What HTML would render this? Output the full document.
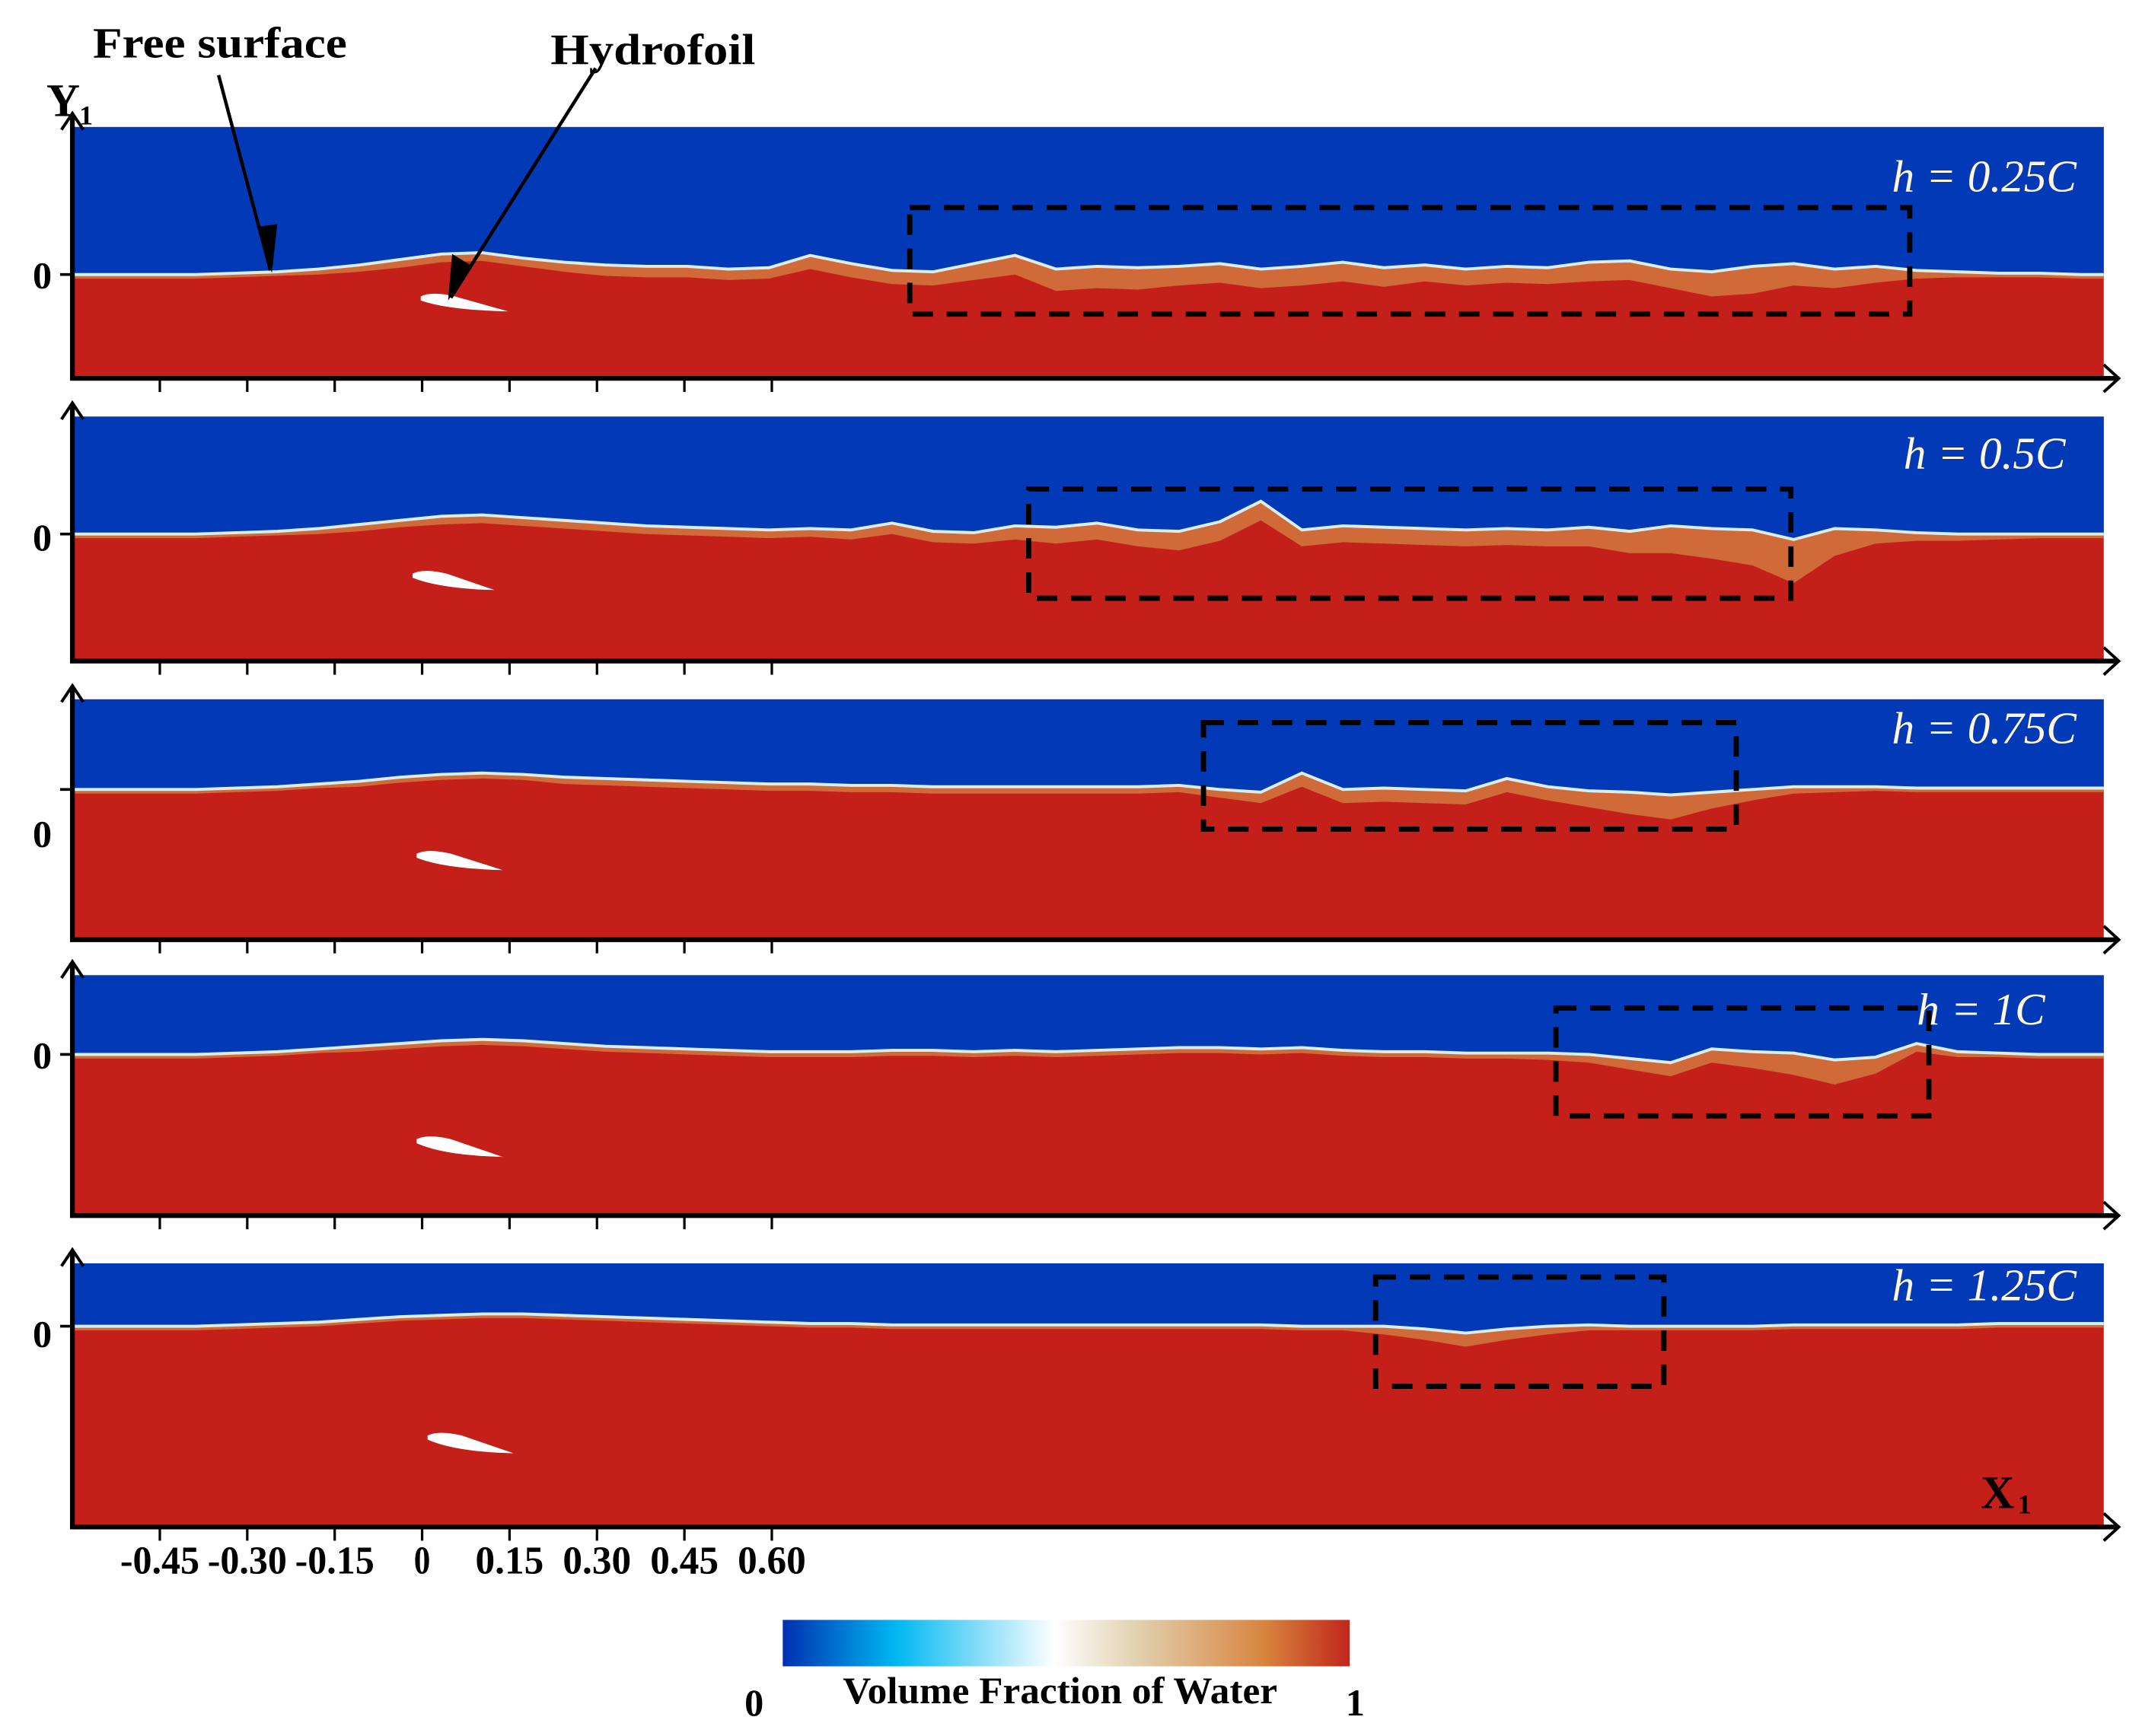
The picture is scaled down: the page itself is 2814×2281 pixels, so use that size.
<!DOCTYPE html>
<html><head><meta charset="utf-8"><style>
html,body{margin:0;padding:0;background:#fff;}
svg{display:block;font-family:"Liberation Serif",serif;}
</style></head><body>
<svg id="fig" width="2814" height="2281" viewBox="0 0 1568 1271" preserveAspectRatio="none" xmlns="http://www.w3.org/2000/svg">
<defs>
<linearGradient id="cbar" x1="0" x2="1" y1="0" y2="0">
<stop offset="0" stop-color="#0030b0"/><stop offset="0.2" stop-color="#00b8f2"/>
<stop offset="0.48" stop-color="#ffffff"/><stop offset="0.62" stop-color="#e2d2b2"/>
<stop offset="0.85" stop-color="#d8843e"/><stop offset="1" stop-color="#c0261a"/>
</linearGradient>
</defs>
<g id="panels"></g>
<g id="annot">
<text x="68" y="42" font-size="32" font-weight="bold" textLength="186" lengthAdjust="spacingAndGlyphs">Free surface</text>
<text x="403" y="47" font-size="32" font-weight="bold" textLength="150" lengthAdjust="spacingAndGlyphs">Hydrofoil</text>
<line x1="160" y1="55" x2="198" y2="198" stroke="#000" stroke-width="2.5"/>
<polygon points="189,166 203,164 199,200" fill="#000"/>
<line x1="436" y1="50" x2="330" y2="218" stroke="#000" stroke-width="2.5"/>
<polygon points="331,186 346,195 328,220" fill="#000"/>
<text x="34" y="85" font-size="34" font-weight="bold">Y</text>
<text x="58" y="91" font-size="20" font-weight="bold">1</text>
<text x="1450" y="1104" font-size="34" font-weight="bold">X</text>
<text x="1477" y="1108" font-size="20" font-weight="bold">1</text>
</g>
<g id="xticks"></g>
<g>
<rect x="573" y="1186" width="415" height="34" fill="url(#cbar)"/>
<text x="545" y="1256" font-size="28" font-weight="bold">0</text>
<text x="617" y="1247" font-size="28" font-weight="bold" textLength="318" lengthAdjust="spacingAndGlyphs">Volume Fraction of Water</text>
<text x="985" y="1256" font-size="28" font-weight="bold">1</text>
</g>
</svg>
<script>
// surface elevation samples (px above zero line) at sampleX positions
const sampleX = [53,83,113,143,173,203,233,263,293,323,353,383,413,443,473,503,533,563,593,623,653,683,713,743,773,803,833,863,893,923,953,983,1013,1043,1073,1103,1133,1163,1193,1223,1253,1283,1313,1343,1373,1403,1433,1463,1493,1523,1540];
const elevH025 = [0,0,0,0,1,2,4,7,11,15,16,12,9,7,6,6,4,5,14,8,3,2,8,14,4,6,5,6,8,4,6,9,5,7,4,6,5,9,10,4,2,6,8,4,6,3,2,1,1,0,0];
const elevH05  = [0,0,0,0,1,2,4,7,10,13,14,12,10,8,6,5,4,3,4,3,8,2,1,6,5,8,3,2,9,24,3,6,5,4,3,4,3,5,2,6,4,3,-4,4,3,1,0,0,0,0,0];
const elevH075 = [0,0,0,0,1,2,4,6,9,11,12,11,9,8,7,6,5,4,4,3,3,2,2,2,2,2,2,3,0,-2,12,0,1,0,-1,8,2,-1,-2,-4,-2,0,2,2,2,1,1,1,1,1,1];
const elevH1   = [0,0,0,0,1,2,4,6,8,10,11,10,8,6,5,4,3,2,2,2,3,3,2,3,2,3,4,5,5,4,5,3,2,2,1,1,1,0,-3,-6,4,2,1,-4,-2,8,2,1,0,0,0];
const elevH125 = [0,0,0,0,1,2,3,5,7,8,9,9,8,7,6,5,4,3,2,2,1,1,1,1,1,1,1,1,1,1,0,0,0,-2,-5,-2,0,1,0,0,0,0,1,1,1,1,1,2,2,2,2];
// orange mixed-layer depth below the surface (px)
const depthH025 = [3,3,3,3,3,3,4,5,6,6,6,6,7,8,8,8,8,8,10,10,10,10,12,14,16,16,16,14,14,14,14,14,14,12,12,12,12,14,14,14,18,20,16,14,12,6,4,3,3,3,3];
const depthH05  = [3,3,3,3,3,3,4,5,5,6,6,6,6,6,6,6,6,6,6,7,8,8,8,10,12,12,12,14,14,14,12,12,12,12,12,12,12,14,16,20,22,26,32,20,10,6,5,4,3,3,3];
const depthH075 = [3,3,3,3,3,3,3,4,4,4,4,4,5,5,5,5,5,5,5,5,5,5,5,5,5,5,5,5,6,8,10,10,10,10,10,10,10,12,16,18,12,8,5,4,3,3,3,3,3,3,3];
const depthH1   = [3,3,3,3,3,3,3,4,4,4,4,4,4,4,4,4,4,4,4,4,4,4,4,4,4,4,4,4,4,4,4,4,4,4,4,4,5,6,8,10,10,12,16,18,12,6,4,3,3,3,3];
const depthH125 = [3,3,3,3,3,3,3,3,3,3,3,3,3,3,3,3,3,3,3,3,3,3,3,3,3,3,3,3,3,3,3,3,6,8,10,8,6,4,3,3,3,3,3,3,3,3,3,3,3,3,3];
const panelLabels = ["0.25C","0.5C","0.75C","1C","1.25C"];
const tickLabels = ["-0.45","-0.30","-0.15","0","0.15","0.30","0.45","0.60"];
const tickValues = [-0.45,-0.30,-0.15,0,0.15,0.30,0.45,0.60];

const NS="http://www.w3.org/2000/svg";
const G=document.getElementById('panels');
function mk(tag,attrs,parent){const e=document.createElementNS(NS,tag);for(const k in attrs)e.setAttribute(k,attrs[k]);(parent||G).appendChild(e);return e;}
function xScale(v){return 309+v*(64/0.15);}
const panels=[
 {top:93,bot:277,zero:201,elev:elevH025,depth:depthH025,box:[666,152,1398,230],lab:[1520,140],foil:[308,219,372,226],zl:201},
 {top:305,bot:484,zero:391,elev:elevH05,depth:depthH05,box:[753,358,1311,438],lab:[1512,343],foil:[302,422,362,430],zl:393},
 {top:512,bot:688,zero:578,elev:elevH075,depth:depthH075,box:[881,529,1271,607],lab:[1520,544],foil:[305,627,368,635],zl:610},
 {top:714,bot:890,zero:772,elev:elevH1,depth:depthH1,box:[1139,738,1412,817],lab:[1497,750],foil:[305,836,368,845],zl:772},
 {top:925,bot:1118,zero:971,elev:elevH125,depth:depthH125,box:[1007,935,1218,1015],lab:[1520,952],foil:[313,1053,376,1062],zl:976}
];
panels.forEach((p,pi)=>{
  const g=mk('g',{});
  
  
  const bg=mk('rect',{x:53,y:p.top,width:1487,height:p.bot-p.top,fill:'#c41f19'},g);
  
  
  const yOf=i=>p.zero-p.elev[i];
  let surf='';sampleX.forEach((x,i)=>{surf+=(i?'L':'M')+x+','+yOf(i).toFixed(1);});
  let air='M53,'+p.top+' L1540,'+p.top+' L1540,'+yOf(sampleX.length-1)+' ';
  for(let i=sampleX.length-1;i>=0;i--)air+='L'+sampleX[i]+','+yOf(i).toFixed(1)+' ';
  air+='Z';
  let band=surf;
  for(let i=sampleX.length-1;i>=0;i--)band+='L'+sampleX[i]+','+(yOf(i)+p.depth[i]).toFixed(1);
  band+='Z';
  const b=mk('path',{d:band,fill:'#d06a38'},g);
  
  
  const a=mk('path',{d:air,fill:'#0239b7'},g);
  
  
  const s=mk('path',{d:surf,fill:'none',stroke:'#d8eef2',"stroke-width":2.2},g);
  
  
  const f=p.foil;
  const foil=mk('path',{d:`M${f[0]},${f[1]-2} Q${f[0]+8},${f[1]-6} ${f[0]+25},${f[1]-2} L${f[2]},${f[3]+2} Q${f[0]+20},${f[3]+1} ${f[0]},${f[1]+1} Z`,fill:'#ffffff'},g);
  
  
  const bx=p.box;
  const box=mk('rect',{x:bx[0],y:bx[1],width:bx[2]-bx[0],height:bx[3]-bx[1],fill:'none',stroke:'#000',"stroke-width":3.8,"stroke-dasharray":"15,10"},g);
  
  
  const t=mk('text',{x:p.lab[0],y:p.lab[1],"font-size":33,"text-anchor":"end",fill:'#fff6dc',"font-style":"italic"},g);
  t.textContent='h = '+panelLabels[pi];
  
  
  const ax=mk('path',{d:`M53,${p.top-8} L53,${p.bot} L1550,${p.bot}`,fill:'none',stroke:'#000',"stroke-width":3.5},g);
  
  
  const ar=mk('path',{d:`M45,${p.top+2} L53,${p.top-10} L61,${p.top+2} M1540,${p.bot-10} L1551,${p.bot} L1540,${p.bot+10}`,fill:'none',stroke:'#000',"stroke-width":2.2},g);
  
  
  const zt=mk('line',{x1:44,x2:53,y1:p.zero,y2:p.zero,stroke:'#000',"stroke-width":2},g);
  
  
  const zl=mk('text',{x:31,y:p.zl+10,"font-size":28,"text-anchor":"middle","font-weight":"bold"},g);
  zl.textContent='0';
  
  
  tickValues.forEach(v=>{
    const tk=mk('line',{x1:xScale(v),x2:xScale(v),y1:p.bot,y2:p.bot+10,stroke:'#000',"stroke-width":1.8},g);
    
    
  });
});
const XT=document.getElementById('xticks');
tickValues.forEach((v,i)=>{
  const t=mk('text',{x:xScale(v),y:1152,"font-size":29,"font-weight":"bold","text-anchor":"middle",textLength:tickLabels[i].length>2?(tickLabels[i][0]=='-'?58:50):12,lengthAdjust:"spacingAndGlyphs"},XT);
  t.textContent=tickLabels[i];
  
  
});
</script>
</body></html>
